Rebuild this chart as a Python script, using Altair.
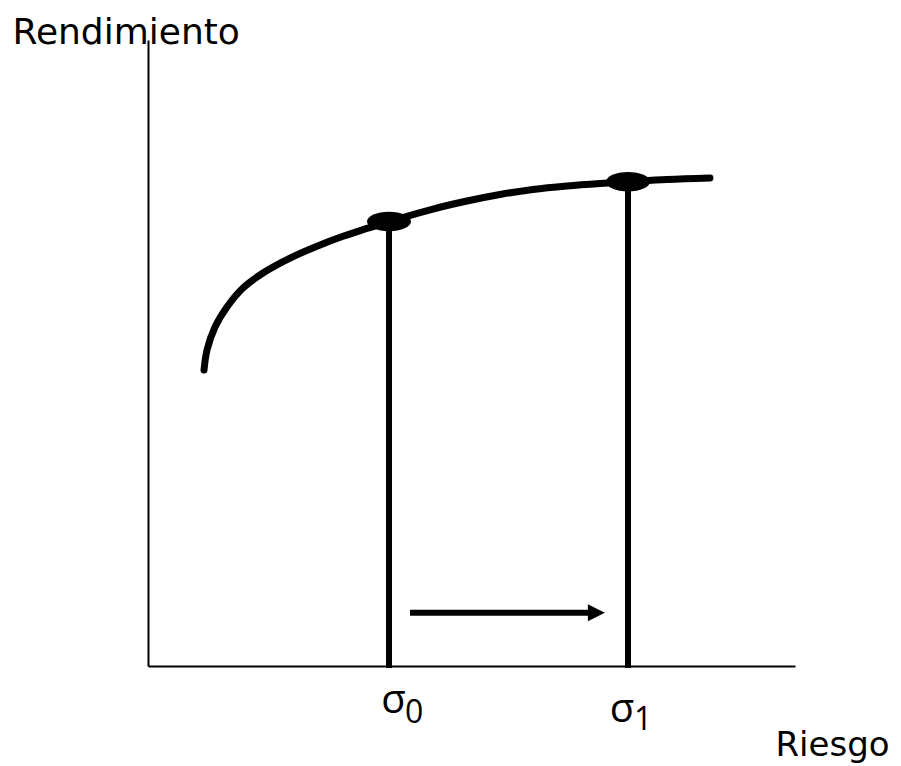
import altair as alt
import pandas as pd

# Curve in data units: Riesgo (x) vs Rendimiento (y)
curve_x = [8.66, 9.12, 10.36, 12.21, 14.68, 17.77, 21.95, 26.12, 30.14, 33.85, 37.25,
           44.05, 49.30, 54.40, 59.50, 64.76, 69.86, 74.19, 80.22, 86.86]
curve_y = [47.28, 50.48, 54.15, 57.35, 60.38, 62.78, 65.16, 67.06, 68.64, 69.90, 71.0,
           73.0, 74.28, 75.32, 76.12, 76.68, 77.08, 77.35, 77.72, 77.96]

# Highlighted points sigma0, sigma1
point_x = [37.25, 74.19]
point_y = [71.0, 77.35]
point_names = ["σ0", "σ1"]

# Arrow from sigma0 towards sigma1
arrow_start = [40.5]
arrow_end = [69.3]
arrow_level = [8.5]

curve_df = pd.DataFrame({"x": curve_x, "y": curve_y})
pts_df = pd.DataFrame({"x": point_x, "y": point_y, "name": point_names})
arrow_df = pd.DataFrame({"x": arrow_start, "x2": arrow_end, "y": arrow_level})

FONT = "Open Sans"
TITLE_FONT = "DejaVu Sans"

xs = alt.Scale(domain=[0, 100], nice=False, zero=False)
ys = alt.Scale(domain=[0, 100], nice=False, zero=False)

x_axis = alt.Axis(title="Riesgo", ticks=False, labels=False, grid=False,
                  domainColor="black", domainWidth=2,
                  titleFont=TITLE_FONT, titleFontSize=34, titleFontWeight="normal",
                  titleColor="black", titleAngle=0, titleAlign="left",
                  titleBaseline="alphabetic", titleX=627, titleY=89)
y_axis = alt.Axis(title="Rendimiento", ticks=False, labels=False, grid=False,
                  domainColor="black", domainWidth=2,
                  titleFont=TITLE_FONT, titleFontSize=36, titleFontWeight="normal",
                  titleColor="black", titleAngle=0, titleAlign="left",
                  titleBaseline="alphabetic", titleX=-136, titleY=3)

base_axes = alt.Chart(curve_df).mark_line(opacity=0).encode(
    x=alt.X("x:Q", scale=xs, axis=x_axis),
    y=alt.Y("y:Q", scale=ys, axis=y_axis),
)

curve = alt.Chart(curve_df).mark_line(
    color="black", strokeWidth=7, strokeCap="round", interpolate="catmull-rom"
).encode(x=alt.X("x:Q", scale=xs), y=alt.Y("y:Q", scale=ys))

verticals = alt.Chart(pts_df).mark_rule(color="black", strokeWidth=6).encode(
    x=alt.X("x:Q", scale=xs),
    y=alt.Y("y:Q", scale=ys),
    y2=alt.datum(-0.3),
)

ellipse_path = ("M -1 0 C -1 -0.243 -0.552 -0.44 0 -0.44 C 0.552 -0.44 1 -0.243 1 0 "
                "C 1 0.243 0.552 0.44 0 0.44 C -0.552 0.44 -1 0.243 -1 0 Z")
dots = alt.Chart(pts_df).mark_point(
    shape=ellipse_path, size=1936, filled=True, color="black", opacity=1
).encode(x=alt.X("x:Q", scale=xs), y=alt.Y("y:Q", scale=ys))

arrow_line = alt.Chart(arrow_df).mark_rule(color="black", strokeWidth=6).encode(
    x=alt.X("x:Q", scale=xs), x2="x2:Q", y=alt.Y("y:Q", scale=ys)
)
arrow_head = alt.Chart(arrow_df).mark_point(
    shape="M -1 -1 L 1 0 L -1 1 Z", size=289, filled=True, color="black", opacity=1
).encode(x=alt.X("x2:Q", scale=xs), y=alt.Y("y:Q", scale=ys))

p0 = pts_df.iloc[[0]]
p1 = pts_df.iloc[[1]]

def sigma_layer(df, dx, dy):
    return alt.Chart(df).mark_text(
        text="σ", font=FONT, fontSize=40, color="black", align="center",
        baseline="alphabetic", dx=dx, dy=dy
    ).encode(x=alt.X("x:Q", scale=xs), y=alt.datum(0))

def sub_layer(df, txt, dx, dy):
    return alt.Chart(df).mark_text(
        text=txt, font=FONT, fontSize=32, color="black", align="left",
        baseline="alphabetic", dx=dx, dy=dy
    ).encode(x=alt.X("x:Q", scale=xs), y=alt.datum(0))

labels = (sigma_layer(p0, 4.5, 47) + sub_layer(p0, "0", 16, 57)
          + sigma_layer(p1, -6, 56) + sub_layer(p1, "1", 6, 64))

chart = alt.layer(
    base_axes, curve, verticals, dots, arrow_line, arrow_head, labels
).properties(
    width=647, height=626,
    autosize=alt.AutoSizeParams(type="none"),
    padding={"left": 140, "top": 32, "right": 98, "bottom": 100},
).configure(background="white").configure_view(strokeWidth=0, stroke="transparent")

chart.save("out.html", embed_options={"renderer": "svg", "actions": False})
